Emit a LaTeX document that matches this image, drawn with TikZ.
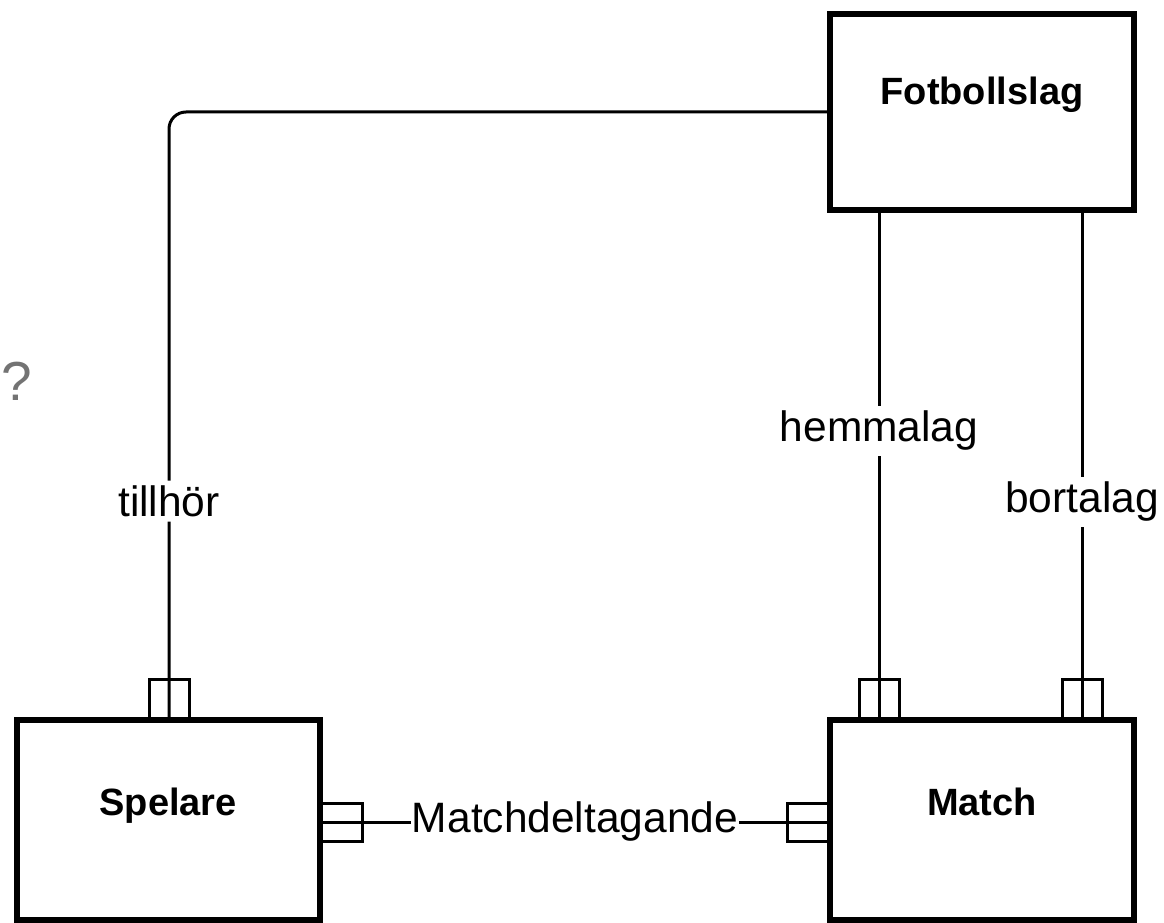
\documentclass[tikz,border=0pt]{standalone}
\usepackage{fontspec}
\setmainfont{Liberation Sans}
\definecolor{graa}{RGB}{115,115,115}
\begin{document}
\begin{tikzpicture}[x=1pt, y=-1pt,
    entitet/.style={draw, line width=6pt, minimum width=304pt, minimum height=200pt, inner sep=0pt},
    namn/.style={font=\fontsize{38}{44}\selectfont\bfseries, anchor=base, inner sep=0pt},
    kantbox/.style={draw, line width=3pt, minimum width=40pt, minimum height=39pt, inner sep=0pt},
    sidbox/.style={kantbox, minimum width=41pt, minimum height=38pt},
    linje/.style={line width=3pt},
    etikett/.style={font=\fontsize{42.5}{50}\selectfont, fill=white, inner xsep=1pt, inner ysep=5pt}]
    \useasboundingbox (0,0) rectangle (1164,923);

    % Entiteter
    \node[entitet, minimum height=196pt] (fotboll) at (982,112) {};
    \node[entitet, minimum width=303.5pt] (spelare) at (168.25,820) {};
    \node[entitet] (match) at (982,820) {};

    % Namn i entiteterna
    \node[namn] at ([yshift=-94pt]fotboll.north) {Fotbollslag};
    \node[namn] at ([yshift=-98pt]spelare.north) {Spelare};
    \node[namn] at ([yshift=-98pt]match.north) {Match};

    % Kantboxar
    \node[kantbox, anchor=south] (spTopp) at (169,720) {};
    \node[kantbox, anchor=south] (hemTopp) at (879,720) {};
    \node[kantbox, anchor=south] (bortaTopp) at (1082,720) {};
    \node[sidbox, anchor=west] (spSida) at (320,822) {};
    \node[sidbox, anchor=east] (maSida) at (830,822) {};

    % Relationer
    \draw[linje, rounded corners=17pt] (fotboll.west) -| (spTopp.south)
        node[pos=0.82, etikett] {tillhör};
    \draw[linje] (fotboll.south -| hemTopp.south) -- (hemTopp.south)
        node[pos=0.43, etikett] {hemmalag};
    \draw[linje] (fotboll.south -| bortaTopp.south) -- (bortaTopp.south)
        node[pos=0.57, etikett] {bortalag};
    \draw[linje] (spSida.west) -- (maSida.east)
        node[midway, etikett] {Matchdeltagande};

    % Frågetecken
    \node[font=\fontsize{55}{60}\selectfont, text=graa, anchor=base, inner sep=0pt] (fraga) at (17,400) {?};
\end{tikzpicture}
\end{document}
